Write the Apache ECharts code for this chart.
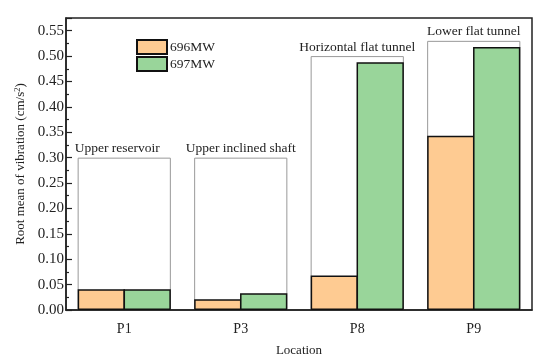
<!DOCTYPE html>
<html><head><meta charset="utf-8">
<script src="https://cdn.jsdelivr.net/npm/echarts@6/dist/echarts.min.js"></script>
<style>html,body{margin:0;padding:0;background:#fff}#c{width:550px;height:362px}</style>
</head><body><div id="c"></div>
<script>
const categories = ['P1', 'P3', 'P8', 'P9'];
const seriesNames = ['696MW', '697MW'];
const values696 = [0.041, 0.021, 0.068, 0.343];
const values697 = [0.041, 0.033, 0.488, 0.518];
const groupLabels = ['Upper reservoir', 'Upper inclined shaft', 'Horizontal flat tunnel', 'Lower flat tunnel'];
const groupHeights = [0.30, 0.30, 0.50, 0.53];
const yTicks = [0, 0.05, 0.10, 0.15, 0.20, 0.25, 0.30, 0.35, 0.40, 0.45, 0.50, 0.55];

const FONT = 'Liberation Serif';
const chart = echarts.init(document.getElementById('c'));
chart.setOption({
  animation: false,
  textStyle: { fontFamily: FONT, color: '#222' },
  grid: { left: 66, right: 18, top: 18, bottom: 50, show: true, borderColor: '#222', borderWidth: 1.5, backgroundColor: 'transparent' },
  legend: {
    orient: 'vertical', left: 136, top: 39, padding: 0, itemWidth: 30, itemHeight: 14, itemGap: 1,
    data: seriesNames, icon: 'rect',
    textStyle: { fontFamily: FONT, fontSize: 13.5, lineHeight: 14, color: '#222', padding: [0, 0, 0, -2] }
  },
  xAxis: [{
    type: 'category', data: categories,
    name: 'Location', nameLocation: 'middle', nameGap: 34,
    nameTextStyle: { fontFamily: FONT, fontSize: 13, color: '#222' },
    axisLine: { lineStyle: { color: '#222', width: 1.5 } },
    axisTick: { show: false },
    axisLabel: { fontFamily: FONT, fontSize: 14, color: '#222', margin: 12 }
  }, {
    type: 'category', data: categories, show: false
  }],
  yAxis: {
    type: 'value', min: 0, max: 0.575, interval: 0.05,
    name: 'Root mean of vibration (cm/s{sup|2})', nameLocation: 'middle', nameGap: 38,
    nameMoveOverlap: false,
    nameTextStyle: { fontFamily: FONT, fontSize: 13, color: '#222', rich: { sup: { fontFamily: FONT, fontSize: 8.5, verticalAlign: 'top', padding: [0, 0, 6, 0] } } },
    axisLine: { show: true, lineStyle: { color: '#222', width: 1.5 } },
    axisTick: { show: true, inside: true, length: 6, lineStyle: { color: '#222', width: 1.2 } },
    minorTick: { show: true, splitNumber: 2, length: 3, lineStyle: { color: '#222', width: 1.2 } },
    splitLine: { show: false },
    axisLabel: {
      fontFamily: FONT, fontSize: 15, color: '#222', margin: 2,
      formatter: function (v) {
        const t = yTicks.find(x => Math.abs(x - v) < 1e-6);
        return t === undefined ? '' : t.toFixed(2);
      }
    }
  },
  series: [{
    name: 'group', type: 'bar', xAxisIndex: 1,
    data: groupHeights.map((v, i) => i === 0 ? { value: v, label: { offset: [-7, 0] } } : v),
    barCategoryGap: '20%', z: 1, silent: true,
    itemStyle: { color: 'rgba(255,255,255,0)', borderColor: '#999', borderWidth: 1 },
    label: {
      show: true, position: 'top', distance: 2,
      fontFamily: FONT, fontSize: 13.5, color: '#222',
      formatter: p => groupLabels[p.dataIndex]
    }
  }, {
    name: seriesNames[0], type: 'bar', data: values696, barGap: '-3%', barCategoryGap: '20%', z: 3,
    itemStyle: { color: '#FECB92', borderColor: '#111', borderWidth: 1.5 }
  }, {
    name: seriesNames[1], type: 'bar', data: values697, barGap: '-3%', barCategoryGap: '20%', z: 3,
    itemStyle: { color: '#99D59A', borderColor: '#111', borderWidth: 1.5 }
  }]
});
</script></body></html>
